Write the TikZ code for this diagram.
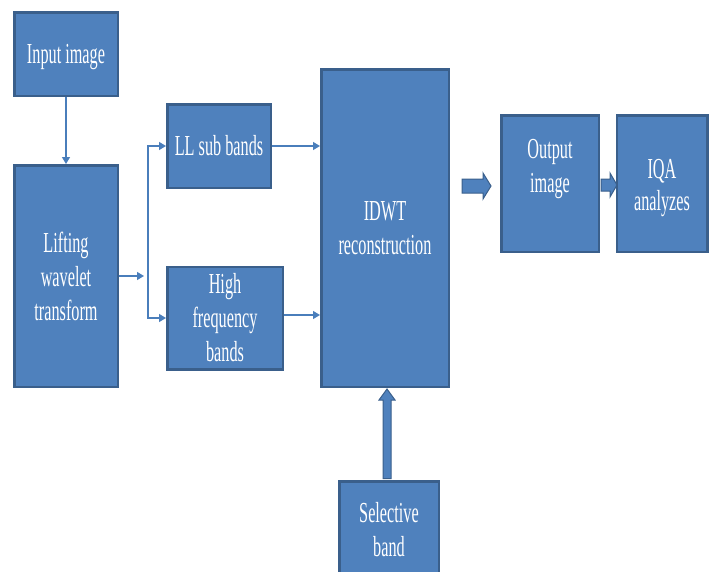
\documentclass[tikz,border=0pt]{standalone}
\usepackage{fontspec}
\setmainfont{Liberation Serif}[FakeStretch=0.56]
\usetikzlibrary{arrows.meta,calc}
\definecolor{boxfill}{HTML}{4F81BD}
\definecolor{boxline}{HTML}{3A5F8B}
\definecolor{arrline}{HTML}{4A7EBB}
\begin{document}
\begin{tikzpicture}[x=1pt,y=-1pt,
  box/.style={draw=boxline, fill=boxfill, line width=2.5pt, text=white, align=center,
    font=\fontsize{29}{34}\selectfont, inner sep=0pt},
  txt/.style={text=white, align=center, font=\fontsize{29}{34}\selectfont, inner sep=0pt},
  arr/.style={draw=arrline, line width=1.3pt, -{Triangle[length=7pt,width=8pt]}},
  blockarr/.style={fill=boxfill, draw=boxline, line width=1pt, line join=miter}]
\useasboundingbox (0,0) rectangle (709,571);
\begin{scope}
\clip (0,0) rectangle (709,571);
\node[box, minimum width=103.5pt, minimum height=83.5pt] (in) at (66,54) {};
\node[txt] (intxt) at (66,57) {Input image};
\node[box, minimum width=103.5pt, minimum height=221.5pt] (lift) at (66,276) {Lifting\\wavelet\\transform};
\node[box, minimum width=103.5pt, minimum height=83.5pt] (ll) at (219,146) {LL sub bands};
\node[box, minimum width=115.5pt, minimum height=102.5pt] (hf) at (225,318) {High\\frequency\\bands};
\node[box, minimum width=127.5pt, minimum height=317.5pt] (idwt) at (385,228) {IDWT\\reconstruction};
\node[box, minimum width=97.5pt, minimum height=136.5pt] (out) at (550,183.5) {};
\node[txt] (outtxt) at (550,169) {Output\\image};
\node[box, minimum width=90.5pt, minimum height=136.5pt] (iqa) at (662,183.5) {};
\node[txt, font=\fontsize{29}{32}\selectfont] (iqatxt) at (662,188) {IQA\\analyzes};
\node[box, minimum width=99.5pt, minimum height=97.5pt] (sel) at (389,530) {Selective\\band};
\end{scope}
% thin connectors
\draw[arr] (in.south) -- (lift.north);
\coordinate (j) at (148,276);
\draw[arr] (lift.east |- j) -- ($(j)+(-4,0)$);
\draw[arr] (j) |- (ll.west);
\draw[arr] (j) |- (hf.west);
\draw[arr] (ll.east) -- (ll.east -| idwt.west);
\draw[arr] ($(hf.east)+(0,-3)$) -- ($(hf.east -| idwt.west)+(0,-3)$);
% block arrow IDWT -> Output
\coordinate (a1) at ($(idwt.east)+(12,-42)$);
\draw[blockarr] ($(a1)+(0,-7)$) -- ++(21,0) -- ++(0,-6) -- ++(8,13) -- ++(-8,13) -- ++(0,-6) -- ++(-21,0) -- cycle;
% block arrow Output -> IQA
\coordinate (a2) at ($(out.east)+(1,1.5)$);
\draw[blockarr] ($(a2)+(0,-6)$) -- ++(9,0) -- ++(0,-6) -- ++(7,12) -- ++(-7,12) -- ++(0,-6) -- ++(-9,0) -- cycle;
% block arrow Selective -> IDWT
\coordinate (a3) at ($(sel.north)+(-2,-1.5)$);
\draw[blockarr] ($(a3)+(-4,0)$) -- ($(a3 |- idwt.south)+(-4,12)$) -- ++(-4,0) -- ++(8,-11) -- ++(8,11) -- ++(-4,0) -- ($(a3)+(4,0)$) -- cycle;
\end{tikzpicture}
\end{document}
